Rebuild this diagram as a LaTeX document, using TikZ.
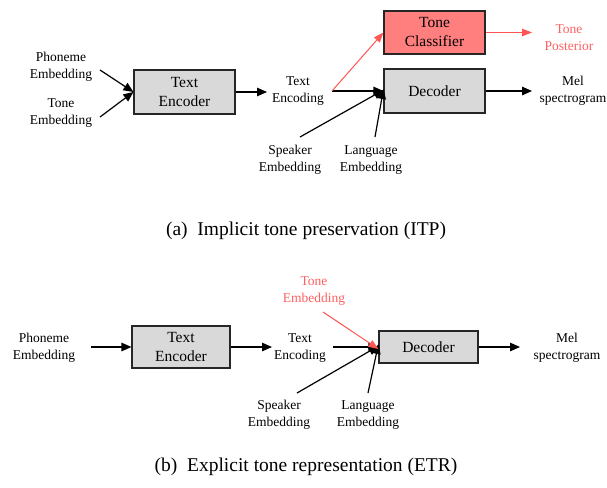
\documentclass[tikz,border=0pt]{standalone}
\usepackage{fontspec}
\setmainfont{Liberation Serif}
\usetikzlibrary{arrows.meta}
\definecolor{boxgray}{HTML}{D9D9D9}
\definecolor{clspink}{HTML}{FF7F7F}
\definecolor{redline}{HTML}{FF5555}
\definecolor{redtext}{HTML}{FF6060}
\begin{document}
\begin{tikzpicture}[x=1pt,y=-1pt,
  blk/.style={draw=black!85,line width=1.1pt,fill=boxgray,align=center,inner sep=0pt,
    font=\fontsize{15.5}{19}\selectfont,minimum width=101pt,minimum height=44pt},
  lbl/.style={align=center,inner sep=2pt,font=\fontsize{13.5}{17}\selectfont},
  captxt/.style={inner sep=0pt,font=\fontsize{19.5}{23}\selectfont},
  arr/.style={line width=1.2pt,-{Triangle[length=10pt,width=8.5pt]}},
  rarr/.style={draw=redline,line width=1pt,-{Triangle[length=10pt,width=7.5pt]}}]
\useasboundingbox (0,0) rectangle (607,487);
% ---------- (a) ----------
\node[blk] (enc1) at (184.5,92) {Text\\Encoder};
\node[blk,fill=clspink,minimum height=43pt] (cls) at (434.5,32.5) {Tone\\Classifier};
\node[blk] (dec1) at (434.5,91) {Decoder};
\node[lbl] (ph1) at (61,67) {Phoneme\\Embedding};
\node[lbl] (tn1) at (61,113) {Tone\\Embedding};
\node[lbl] (te1) at (298,91) {Text\\Encoding};
\node[lbl] (sp1) at (290,160) {Speaker\\Embedding};
\node[lbl] (la1) at (371,160) {Language\\Embedding};
\node[lbl,text=redtext] (tp1) at (569,38) {Tone\\Posterior};
\node[lbl] (mel1) at (573,91) {Mel\\spectrogram};
\coordinate (ph1s) at (100,70);
\coordinate (tn1s) at (100,117);
\coordinate (te1e) at (267,92);
\coordinate (j1) at (332,91);
\coordinate (sp1s) at (300,137);
\coordinate (la1s) at (375,137);
\coordinate (tp1e) at (532,32.5);
\coordinate (mel1e) at (532,91);
\draw[arr] (ph1s) -- (enc1.west);
\draw[arr] (tn1s) -- (enc1.west);
\draw[arr] (enc1.east) -- (te1e);
\draw[arr] (j1) -- (dec1.west);
\draw[rarr] (j1) -- (cls.west);
\draw[arr] (sp1s) -- ([yshift=1pt]dec1.west);
\draw[arr] (la1s) -- ([yshift=2pt]dec1.west);
\draw[rarr] (cls.east) -- (tp1e);
\draw[arr] (dec1.east) -- (mel1e);
\node[captxt] (capa) at (306,231) {(a)\enspace Implicit tone preservation (ITP)};
% ---------- (b) ----------
\node[blk,minimum width=98pt,minimum height=42pt] (enc2) at (181,347) {Text\\Encoder};
\node[blk,minimum width=99pt,minimum height=32pt] (dec2) at (428.5,347) {Decoder};
\node[lbl] (ph2) at (44,348) {Phoneme\\Embedding};
\node[lbl] (te2) at (300,348) {Text\\Encoding};
\node[lbl,text=redtext] (tn2) at (314,291) {Tone\\Embedding};
\node[lbl] (sp2) at (279,415) {Speaker\\Embedding};
\node[lbl] (la2) at (368,415) {Language\\Embedding};
\node[lbl] (mel2) at (567,348) {Mel\\spectrogram};
\coordinate (ph2s) at (91,347);
\coordinate (te2e) at (272,347);
\coordinate (j2) at (333,347);
\coordinate (tn2s) at (323,312);
\coordinate (sp2s) at (297,393);
\coordinate (la2s) at (368,393);
\coordinate (mel2e) at (520,347);
\draw[arr] (ph2s) -- (enc2.west);
\draw[arr] (enc2.east) -- (te2e);
\draw[arr] (j2) -- (dec2.west);
\draw[arr] (sp2s) -- ([yshift=1pt]dec2.west);
\draw[arr] (la2s) -- ([yshift=3pt]dec2.west);
\draw[rarr] (tn2s) -- ([yshift=-2pt]dec2.west);
\draw[arr] (dec2.east) -- (mel2e);
\node[captxt] (capb) at (306,467) {(b)\enspace Explicit tone representation (ETR)};
\end{tikzpicture}
\end{document}
